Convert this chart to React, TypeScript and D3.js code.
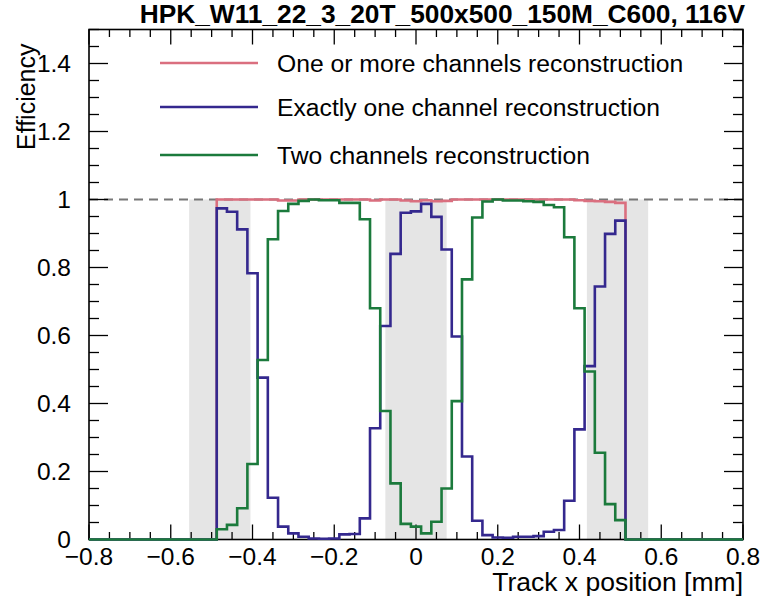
import React from "react";
import * as d3 from "d3";

// ---------- data ----------
const titleText = "HPK_W11_22_3_20T_500x500_150M_C600, 116V";
const xTitle = "Track x position [mm]";
const yTitle = "Efficiency";

const xTicks = [-0.8, -0.6, -0.4, -0.2, 0, 0.2, 0.4, 0.6, 0.8];
const xTickLabels = ["\u22120.8", "\u22120.6", "\u22120.4", "\u22120.2", "0", "0.2", "0.4", "0.6", "0.8"];
const yTicks = [0, 0.2, 0.4, 0.6, 0.8, 1, 1.2, 1.4];
const yTickLabels = ["0", "0.2", "0.4", "0.6", "0.8", "1", "1.2", "1.4"];

// bin centres (bin width 0.025 mm)
const binCenters = [
  -0.475, -0.45, -0.425, -0.4, -0.375, -0.35, -0.325, -0.3, -0.275, -0.25,
  -0.225, -0.2, -0.175, -0.15, -0.125, -0.1, -0.075, -0.05, -0.025, 0,
  0.025, 0.05, 0.075, 0.1, 0.125, 0.15, 0.175, 0.2, 0.225, 0.25,
  0.275, 0.3, 0.325, 0.35, 0.375, 0.4, 0.425, 0.45, 0.475, 0.5,
];
const binWidth = 0.025;

const oneOrMore = [
  1.0, 1.0, 1.0, 1.0, 1.0, 1.0, 0.997, 0.997, 1.0, 1.0,
  1.0, 1.0, 1.0, 1.0, 1.0, 0.997, 1.0, 1.0, 0.997, 0.995,
  0.998, 0.995, 0.996, 1.0, 1.0, 1.0, 1.0, 1.0, 1.0, 1.0,
  1.0, 1.0, 1.0, 1.0, 1.0, 0.998, 0.996, 0.995, 0.993, 0.99,
];
const exactlyOne = [
  0.974, 0.964, 0.912, 0.783, 0.476, 0.123, 0.038, 0.018, 0.008, 0.003,
  0.002, 0.003, 0.015, 0.016, 0.062, 0.327, 0.628, 0.84, 0.961, 0.965,
  0.987, 0.949, 0.853, 0.597, 0.244, 0.055, 0.013, 0.006, 0.005, 0.008,
  0.008, 0.01, 0.023, 0.028, 0.114, 0.324, 0.51, 0.744, 0.899, 0.938,
];
const twoChannels = [
  0.03, 0.043, 0.092, 0.222, 0.528, 0.883, 0.966, 0.987, 0.996, 1.0,
  0.998, 0.998, 0.99, 0.99, 0.942, 0.68, 0.378, 0.165, 0.046, 0.038,
  0.018, 0.052, 0.15, 0.407, 0.765, 0.947, 0.994, 1.0, 0.997, 0.997,
  0.995, 0.993, 0.984, 0.977, 0.889, 0.68, 0.494, 0.255, 0.104, 0.057,
];

// shaded regions (metal pads)
const bandStarts = [-0.555, -0.075, 0.418];
const bandEnds = [-0.405, 0.075, 0.568];

const seriesNames = [
  "One or more channels reconstruction",
  "Exactly one channel reconstruction",
  "Two channels reconstruction",
];
const seriesColors = ["#da6f7f", "#34288e", "#1b7a3c"];

// ---------- layout ----------
const W = 761;
const H = 600;
const L = 89, R = 743, T = 29.5, B = 539.5;
const font = "'Liberation Sans', Arial, Helvetica, sans-serif";

export default function App() {
  const x = d3.scaleLinear().domain([-0.8, 0.8]).range([L, R]);
  const y = d3.scaleLinear().domain([0, 1.5]).range([B, T]);

  const histPath = (vals: number[]) => {
    const pts: [number, number][] = [];
    pts.push([-0.8, 0]);
    pts.push([binCenters[0] - binWidth / 2, 0]);
    vals.forEach((v, i) => {
      pts.push([binCenters[i] - binWidth / 2, v]);
      pts.push([binCenters[i] + binWidth / 2, v]);
    });
    pts.push([binCenters[binCenters.length - 1] + binWidth / 2, 0]);
    pts.push([0.8, 0]);
    return d3
      .line<[number, number]>()
      .x((d) => x(d[0]))
      .y((d) => y(d[1]))(pts) as string;
  };

  const xMinor = d3.range(-0.8, 0.8001, 0.05).filter((v) => Math.abs(Math.round(v * 5) - v * 5) > 1e-6);
  const yMinor = d3.range(0, 1.5001, 0.05).filter((v) => Math.abs(Math.round(v * 5) - v * 5) > 1e-6);

  const xMajLen = 15, xMinLen = 7.5, yMajLen = 19, yMinLen = 10;
  const series = [oneOrMore, exactlyOne, twoChannels];
  const legendY = [63, 107, 155];

  return (
    <svg
      width={W}
      height={H}
      style={{ position: "absolute", left: 0, top: 0, background: "#fff" }}
      xmlns="http://www.w3.org/2000/svg"
    >
      <rect x={0} y={0} width={W} height={H} fill="#fff" />
      {/* shaded bands */}
      {bandStarts.map((s, i) => (
        <rect
          key={"band" + i}
          x={x(s)}
          y={y(1)}
          width={x(bandEnds[i]) - x(s)}
          height={y(0) - y(1)}
          fill="#e5e5e5"
        />
      ))}
      {/* dashed line at 1 */}
      <line x1={x(-0.8)} x2={x(0.8)} y1={y(1)} y2={y(1)} stroke="#777" strokeWidth={2} strokeDasharray="9,6" />

      {/* frame */}
      <rect x={L} y={T} width={R - L} height={B - T} fill="none" stroke="#000" strokeWidth={1.6} />
      {/* x ticks */}
      {xTicks.map((v, i) => (
        <g key={"xt" + i}>
          <line x1={x(v)} x2={x(v)} y1={B} y2={B - xMajLen} stroke="#000" strokeWidth={1.3} />
          <line x1={x(v)} x2={x(v)} y1={T} y2={T + xMajLen} stroke="#000" strokeWidth={1.3} />
        </g>
      ))}
      {xMinor.map((v, i) => (
        <g key={"xm" + i}>
          <line x1={x(v)} x2={x(v)} y1={B} y2={B - xMinLen} stroke="#000" strokeWidth={1.3} />
          <line x1={x(v)} x2={x(v)} y1={T} y2={T + xMinLen} stroke="#000" strokeWidth={1.3} />
        </g>
      ))}
      {/* y ticks */}
      {yTicks.map((v, i) => (
        <g key={"yt" + i}>
          <line x1={L} x2={L + yMajLen} y1={y(v)} y2={y(v)} stroke="#000" strokeWidth={1.3} />
          <line x1={R} x2={R - yMajLen} y1={y(v)} y2={y(v)} stroke="#000" strokeWidth={1.3} />
        </g>
      ))}
      {yMinor.map((v, i) => (
        <g key={"ym" + i}>
          <line x1={L} x2={L + yMinLen} y1={y(v)} y2={y(v)} stroke="#000" strokeWidth={1.3} />
          <line x1={R} x2={R - yMinLen} y1={y(v)} y2={y(v)} stroke="#000" strokeWidth={1.3} />
        </g>
      ))}

      {/* histograms */}
      {series.map((vals, i) => (
        <path key={"h" + i} d={histPath(vals)} fill="none" stroke={seriesColors[i]} strokeWidth={2.6} />
      ))}

      {/* tick labels */}
      {xTicks.map((v, i) => (
        <text key={"xl" + i} x={x(v)} y={565} textAnchor="middle" fontFamily={font} fontSize={24.5} fill="#000">
          {xTickLabels[i]}
        </text>
      ))}
      {yTicks.map((v, i) => (
        <text key={"yl" + i} x={71} y={y(v) + 8.8} textAnchor="end" fontFamily={font} fontSize={24.5} fill="#000">
          {yTickLabels[i]}
        </text>
      ))}

      {/* axis titles */}
      <text x={R} y={591} textAnchor="end" fontFamily={font} fontSize={26.5} fill="#000">
        {xTitle}
      </text>
      <text
        transform={`translate(35,${T + 14}) rotate(-90)`}
        textAnchor="end"
        fontFamily={font}
        fontSize={25}
        fill="#000"
      >
        {yTitle}
      </text>

      {/* title */}
      <text x={745} y={23} textAnchor="end" fontFamily={font} fontSize={26.3} fontWeight="bold" fill="#000">
        {titleText}
      </text>

      {/* legend */}
      {seriesNames.map((name, i) => (
        <g key={"lg" + i}>
          <line x1={160} x2={258} y1={legendY[i]} y2={legendY[i]} stroke={seriesColors[i]} strokeWidth={2.6} />
          <text x={277} y={legendY[i] + 8.5} fontFamily={font} fontSize={24.7} fill="#000">
            {name}
          </text>
        </g>
      ))}
    </svg>
  );
}
